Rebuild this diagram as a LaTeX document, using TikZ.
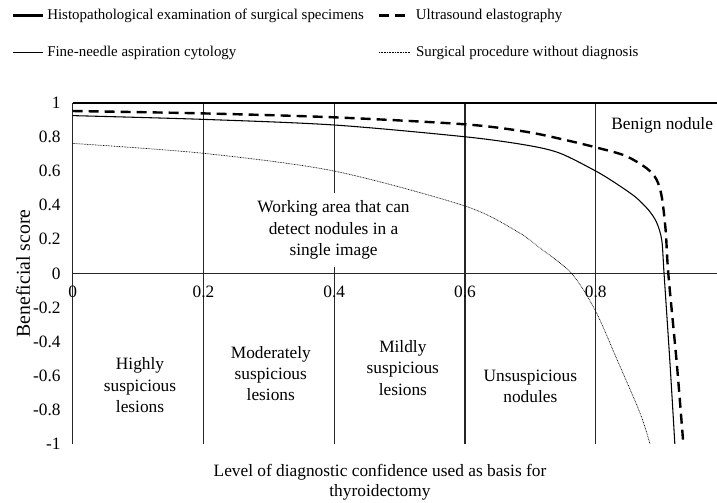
\documentclass[tikz,border=0pt]{standalone}
\usepackage{fontspec}
\setmainfont{Liberation Serif}
\usetikzlibrary{positioning,calc}

\tikzset{
  gridline/.style={line width=0.9pt, black!85},
  histo/.style={line width=1.6pt},
  elasto/.style={line width=1.8pt, dash pattern=on 7.5pt off 4.5pt},
  fnac/.style={line width=0.8pt},
  nodiag/.style={line width=0.5pt, dash pattern=on 0.6pt off 0.6pt},
  ticklabel/.style={font=\fontsize{13}{15}\selectfont, inner sep=0pt},
  area/.style={font=\fontsize{13}{16}\selectfont, align=center, inner sep=0pt},
  legend/.style={font=\fontsize{11.2}{13}\selectfont, anchor=west, inner sep=0pt},
}

\begin{document}
\begin{tikzpicture}[x=490.3pt, y=127.9pt]
    \useasboundingbox (-0.1112,-1.341) rectangle (0.9855,1.603);
    % legend
    \coordinate (h1) at (-0.0913,1.512);
    \coordinate (h2) at (-0.0454,1.512);
    \coordinate (f1) at (-0.0913,1.295);
    \coordinate (f2) at (-0.0454,1.295);
    \coordinate (u1) at (0.4685,1.512);
    \coordinate (u2) at (0.5083,1.512);
    \coordinate (s1) at (0.4685,1.295);
    \coordinate (s2) at (0.5160,1.295);
    \draw[histo] (h1) -- (h2);
    \draw[fnac] (f1) -- (f2);
    \draw[elasto] (u1) -- (u2);
    \draw[nodiag] (s1) -- (s2);
    \node[legend] (Lh) [right=3pt of h2] {Histopathological examination of surgical specimens};
    \node[legend] (Lf) [right=3pt of f2] {Fine-needle aspiration cytology};
    \node[legend] (Lu) [right=8pt of u2] {Ultrasound elastography};
    \node[legend] (Ls) [right=4.3pt of s2] {Surgical procedure without diagnosis};
    % grid
    \coordinate (O) at (0,0);
    \coordinate (OR) at (0.9855,0);
    \coordinate (T) at (0,1);
    \coordinate (TR) at (0.9855,1);
    \foreach \x in {0,0.2,0.4,0.6,0.8}
        \draw[gridline] (\x,1) -- (\x,-1);
    \draw[gridline] (O) -- (OR);
    \draw[histo] (T) -- (TR);
    \foreach \y in {1,0.8,0.6,0.4,0.2,0,-0.2,-0.4,-0.6,-0.8,-1}
        \node[ticklabel, anchor=east] at (-0.018,\y) {\y};
    \foreach \x in {0,0.2,0.4,0.6,0.8}
        \node[ticklabel] at (\x,-0.11) {\x};
    % zones
    \node[area, fill=white, inner sep=6pt] (work) at (0.399,0.254)
        {Working area that can\\detect nodules in a\\single image};
    \node[area] (benign) at (0.9017,0.87) {Benign nodule};
    \node[area] (high) at (0.103,-0.655) {Highly\\suspicious\\lesions};
    \node[area] (moder) at (0.303,-0.587) {Moderately\\suspicious\\lesions};
    \node[area] (mild) at (0.505,-0.554) {Mildly\\suspicious\\lesions};
    \node[area] (unsusp) at (0.700,-0.662) {Unsuspicious\\nodules};
    % curves
    \draw[elasto] plot[smooth] coordinates {(0,0.952) (0.2,0.938) (0.4,0.915)
        (0.6,0.874) (0.694,0.83) (0.756,0.78) (0.8,0.739) (0.845,0.69) (0.878,0.616)
        (0.893,0.55) (0.901,0.449) (0.907,0.25) (0.911,0) (0.924,-0.528) (0.934,-1)};
    \draw[fnac] plot[smooth] coordinates {(0,0.925) (0.2,0.903) (0.4,0.870)
        (0.6,0.801) (0.694,0.752) (0.745,0.705) (0.8,0.60) (0.83,0.53) (0.86,0.45)
        (0.88,0.375) (0.893,0.3) (0.901,0.195) (0.9045,0) (0.9136,-0.528) (0.921,-1)};
    \draw[nodiag] plot[smooth] coordinates {(0,0.762) (0.2,0.704) (0.4,0.60)
        (0.6,0.395) (0.68,0.245) (0.7154,0.147) (0.763,0) (0.799,-0.215)
        (0.832,-0.50) (0.868,-0.821) (0.883,-1)};
    % axis titles
    \node[font=\fontsize{14.8}{17}\selectfont, rotate=90] (ytitle) at (-0.076,0) {Beneficial score};
    \node[area, font=\fontsize{13}{14.5}\selectfont] (xtitle) at (0.47,-1.225)
        {Level of diagnostic confidence used as basis for\\thyroidectomy};
\end{tikzpicture}
\end{document}
